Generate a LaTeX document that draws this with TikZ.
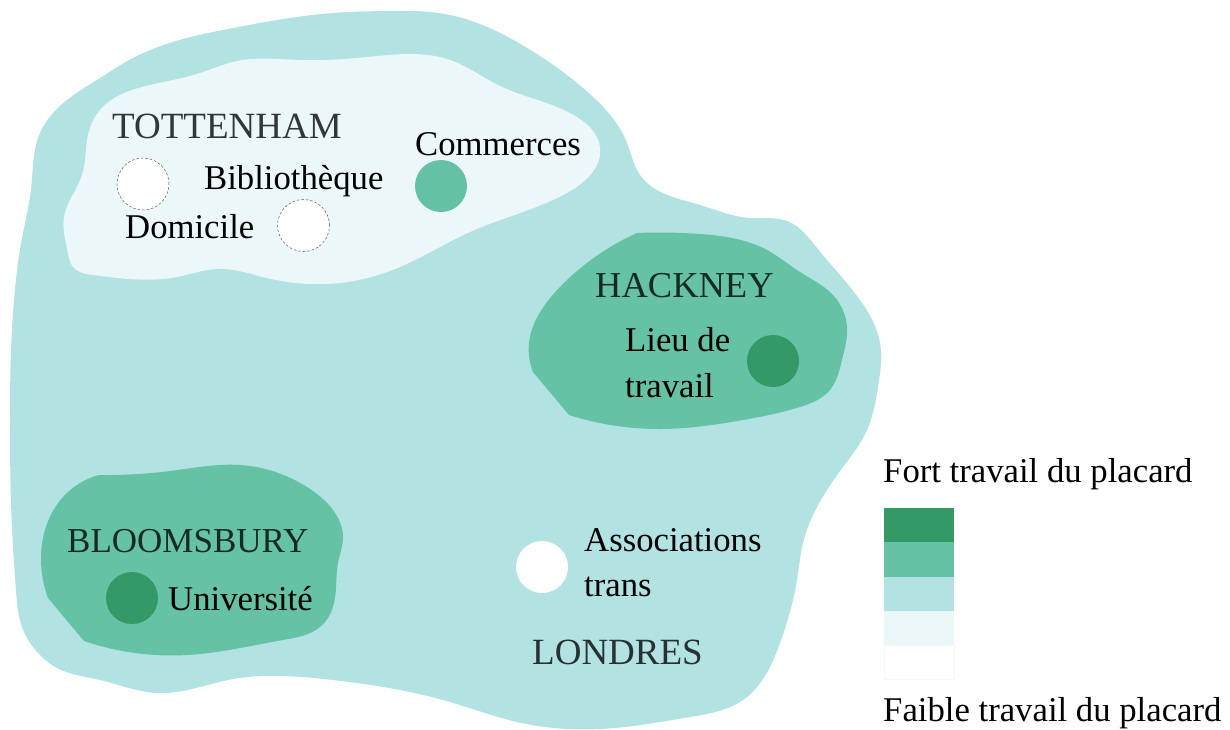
\documentclass[tikz,border=0pt]{standalone}
\usepackage{fontspec}
\setmainfont{Liberation Serif}
\usetikzlibrary{hobby}
\definecolor{cA}{HTML}{339966}
\definecolor{cB}{HTML}{66C2A5}
\definecolor{cC}{HTML}{B2E2E2}
\definecolor{cD}{HTML}{EBF7F9}
\tikzset{
  blob/.style={draw=none,fill=#1},
  spot/.style={circle,minimum size=52pt,inner sep=0pt,fill=#1},
  dashspot/.style={circle,minimum size=52pt,inner sep=0pt,fill=white,draw=black!65,dash pattern=on 2.5pt off 2pt,line width=0.5pt},
  lab/.style={font=\fontsize{34.7}{38}\selectfont,inner sep=0pt,anchor=base west},
  place/.style={font=\fontsize{#1}{40}\selectfont,inner sep=0pt,anchor=base west,text=black,text opacity=0.78},
  swatch/.style={fill=#1,draw=none}
}
\begin{document}
\begin{tikzpicture}[x=1pt,y=-1pt,use Hobby shortcut]
\useasboundingbox (0,0) rectangle (1230,729);
\fill[white] (0,0) rectangle (1230,729);
\fill[blob=cC] ([closed]383,11)..(450,15)..(517,42)..(583,88)..(627,143)..(640,175)..(657,190)..(700,205)..(750,218)..(787,221)..(817,248)..(860,300)..(880,343)..(878,387)..(867,430)..(843,467)..(817,507)..(803,543)..(797,580)..(780,643)..(743,700)..(690,717)..(600,729)..(517,722)..(450,702)..(333,680)..(283,676)..(233,679)..(157,693)..(100,680)..(57,668)..(40,655)..(22,627)..(16,590)..(13,547)..(10,430)..(14,300)..(23,233)..(31,190)..(40,133)..(67,100)..(100,78)..(133,58)..(233,28)..(333,13);
\fill[blob=cD] ([closed]100,110)..(150,85)..(200,73)..(237,61)..(300,60)..(367,57)..(450,60)..(500,86)..(577,117)..(600,147)..(567,193)..(470,232)..(400,267)..(327,284)..(267,278)..(217,269)..(177,277)..(93,275)..(73,267)..(68,253)..(64,217)..(82,175)..(88,135);
\fill[blob=cB] (637,233)..(700,234)..(767,250)..(800,272)..(833,295)..(847,327)..(842,360)..(830,390)..(800,407)..(743,420)..(660,429)..(569,415) -- (533,372)..(529,343)..(560,287)..(637,233) -- cycle;
\fill[blob=cB] (99,475)..(170,471)..(240,465)..(307,487)..(333,510)..(343,537)..(338,563)..(333,607)..(320,627)..(283,640)..(187,655)..(84,641) -- (48,598)..(41,557)..(63,497)..(99,475) -- cycle;
\node[spot=cB] (commerces) at (441,186) {};
\node[spot=cA] (lieu) at (773,361) {};
\node[spot=cA] (univ) at (132,598) {};
\node[spot=white] (assoc) at (542,567) {};
\node[dashspot] (dom) at (143,184) {};
\node[dashspot] (bib) at (303.5,225.5) {};
\node[place=37] (t) at (112,138) {TOTTENHAM};
\node[lab] (l1) at (415,155) {Commerces};
\node[lab] (l2) at (204,189) {Bibliothèque};
\node[lab] (l3) at (125,238) {Domicile};
\node[place=36.5] (h) at (595,297) {HACKNEY};
\node[lab] (l4) at (625,351) {Lieu de};
\node[lab] (l5) at (625,397) {travail};
\node[place=35] (b) at (67,552) {BLOOMSBURY};
\node[lab] (l6) at (168,610) {Université};
\node[lab] (l7) at (584,551) {Associations};
\node[lab] (l8) at (584,596) {trans};
\node[place=37] (lo) at (532,664) {LONDRES};
\node[lab] (f1) at (883,482) {Fort travail du placard};
\node[lab] (f2) at (883,721) {Faible travail du placard};
\fill[swatch=cA] (884,508) rectangle (954,542);
\fill[swatch=cB] (884,542) rectangle (954,577);
\fill[swatch=cC] (884,577) rectangle (954,611);
\fill[swatch=cD] (884,611) rectangle (954,645);
\draw[black!3,line width=0.5pt] (884,645) rectangle (954,679.5);
\end{tikzpicture}
\end{document}
